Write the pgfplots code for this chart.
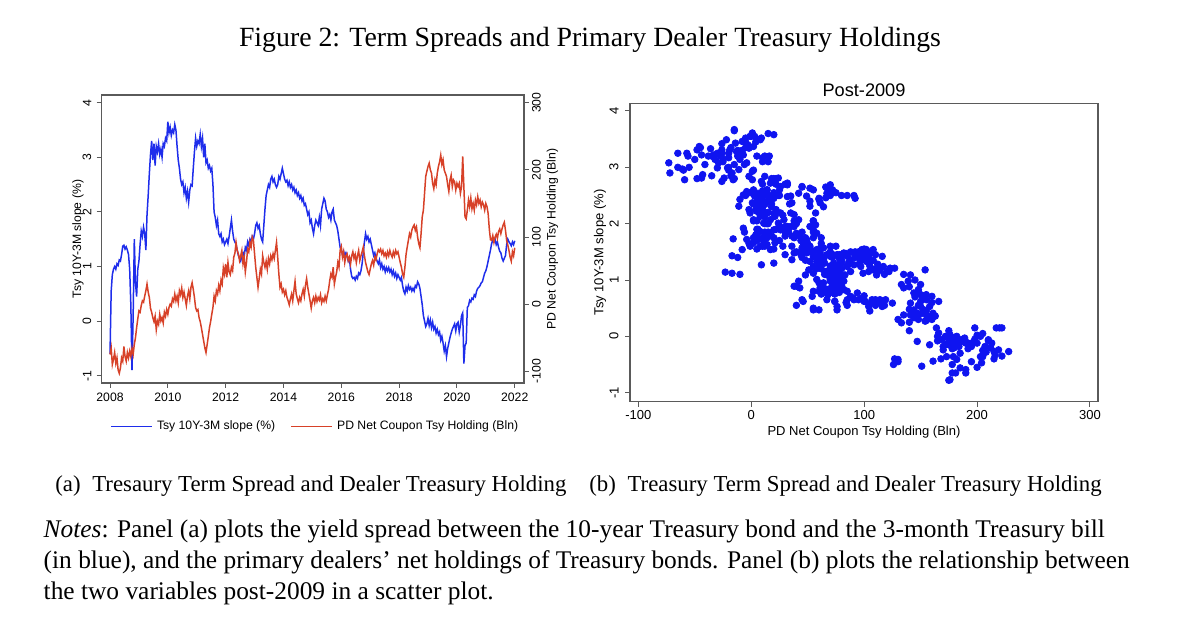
\documentclass[border=0pt]{standalone}
\usepackage{pgfplots}
\pgfplotsset{compat=1.18}
\usepackage{pgfplotstable}
\usepackage{fontspec}
\setmainfont{Liberation Serif}
\newfontfamily\sans{Liberation Sans}
\definecolor{lblue}{RGB}{30,45,235}
\definecolor{lred}{RGB}{215,65,40}
\definecolor{sblue}{RGB}{15,20,240}
\definecolor{framegray}{RGB}{90,90,90}
\newcommand\lf{\sans\fontsize{6.1}{7.3}\selectfont}
\newcommand\rf{\sans\fontsize{6.5}{7.8}\selectfont}
\pgfplotstableread{
t s h
2008.00 -0.60 -75
2008.04 0.55 -65
2008.08 0.85 -90
2008.12 0.95 -82
2008.16 1.00 -72
2008.20 0.95 -88
2008.24 1.05 -80
2008.28 1.02 -98
2008.32 1.12 -103
2008.36 1.10 -95
2008.40 1.22 -80
2008.44 1.37 -85
2008.48 1.39 -63
2008.52 1.32 -78
2008.56 1.36 -85
2008.60 1.30 -72
2008.64 1.22 -80
2008.68 0.95 -70
2008.72 0.30 -78
2008.76 -0.90 -66
2008.80 0.10 -75
2008.84 1.50 -60
2008.88 0.70 -50
2008.92 0.45 -35
2008.96 0.95 -22
2009.00 1.10 -10
2009.04 1.40 -12
2009.08 1.65 -2
2009.12 1.55 5
2009.16 1.72 3
2009.20 1.60 12
2009.24 1.30 20
2009.28 1.95 30
2009.32 2.30 18
2009.36 2.70 10
2009.40 3.05 -6
2009.44 3.30 -12
2009.48 2.95 -20
2009.52 3.25 -26
2009.56 2.85 -18
2009.60 3.20 -38
2009.64 3.10 -25
2009.68 3.25 -30
2009.72 3.05 -15
2009.76 3.15 -25
2009.80 3.00 -20
2009.84 3.25 -28
2009.88 3.20 -12
2009.92 3.35 -18
2009.96 3.30 -8
2010.00 3.65 -15
2010.04 3.45 -5
2010.08 3.55 0
2010.12 3.40 -3
2010.16 3.50 8
2010.20 3.45 4
2010.24 3.60 15
2010.28 3.50 5
2010.32 3.20 12
2010.36 2.95 2
2010.40 2.80 20
2010.44 2.60 14
2010.48 2.50 24
2010.52 2.55 10
2010.56 2.35 18
2010.60 2.45 8
2010.64 2.25 -2
2010.68 2.38 12
2010.72 2.18 20
2010.76 2.40 8
2010.80 2.50 25
2010.84 2.48 32
2010.88 2.80 22
2010.92 3.10 10
2010.96 3.35 -5
2011.00 3.20 -10
2011.04 3.30 -8
2011.08 3.25 -20
2011.12 3.42 -26
2011.16 3.20 -35
2011.20 3.35 -45
2011.24 3.00 -55
2011.28 3.25 -65
2011.32 2.90 -72
2011.36 2.95 -60
2011.40 2.80 -48
2011.44 2.85 -35
2011.48 2.75 -26
2011.52 2.80 -15
2011.56 2.50 -5
2011.60 2.00 12
2011.64 1.90 5
2011.68 1.75 20
2011.72 1.85 15
2011.76 1.60 28
2011.80 1.55 20
2011.84 1.60 36
2011.88 1.45 30
2011.92 1.50 54
2011.96 1.40 45
2012.00 1.45 60
2012.04 1.50 40
2012.08 1.42 62
2012.12 1.55 48
2012.16 1.70 44
2012.20 1.85 55
2012.24 1.65 50
2012.28 1.50 70
2012.32 1.45 76
2012.36 1.40 92
2012.40 1.30 80
2012.44 1.20 75
2012.48 1.15 65
2012.52 1.10 72
2012.56 1.20 80
2012.60 1.25 60
2012.64 1.18 70
2012.68 1.35 48
2012.72 1.30 62
2012.76 1.45 82
2012.80 1.38 78
2012.84 1.50 92
2012.88 1.45 85
2012.92 1.55 100
2012.96 1.50 95
2013.00 1.60 75
2013.04 1.75 55
2013.08 1.80 40
2013.12 1.70 25
2013.16 1.75 38
2013.20 1.60 52
2013.24 1.50 45
2013.28 1.45 72
2013.32 1.75 62
2013.36 2.05 55
2013.40 2.30 64
2013.44 2.40 52
2013.48 2.50 68
2013.52 2.45 60
2013.56 2.60 72
2013.60 2.65 66
2013.64 2.55 75
2013.68 2.60 68
2013.72 2.50 80
2013.76 2.45 92
2013.80 2.50 70
2013.84 2.65 45
2013.88 2.60 25
2013.92 2.70 30
2013.96 2.80 18
2014.00 2.70 22
2014.04 2.60 14
2014.08 2.55 20
2014.12 2.58 10
2014.16 2.48 5
2014.20 2.55 -1
2014.24 2.45 8
2014.28 2.50 15
2014.32 2.40 5
2014.36 2.45 20
2014.40 2.35 34
2014.44 2.40 15
2014.48 2.30 8
2014.52 2.35 2
2014.56 2.25 10
2014.60 2.30 5
2014.64 2.20 15
2014.68 2.25 22
2014.72 2.12 12
2014.76 2.15 28
2014.80 2.05 38
2014.84 1.95 25
2014.88 2.00 15
2014.92 1.80 5
2014.96 1.85 -6
2015.00 1.70 5
2015.04 1.60 10
2015.08 1.75 2
2015.12 1.85 12
2015.16 1.80 4
2015.20 1.75 10
2015.24 1.90 6
2015.28 1.75 14
2015.32 2.05 2
2015.36 2.15 8
2015.40 2.25 4
2015.44 2.20 12
2015.48 2.05 5
2015.52 2.00 14
2015.56 1.90 22
2015.60 1.95 35
2015.64 1.85 45
2015.68 2.00 40
2015.72 2.05 55
2015.76 1.85 30
2015.80 1.80 40
2015.84 1.75 48
2015.88 1.65 62
2015.92 1.50 55
2015.96 1.35 80
2016.00 1.30 86
2016.04 1.22 70
2016.08 1.28 78
2016.12 1.20 62
2016.16 1.25 72
2016.20 1.18 75
2016.24 1.10 65
2016.28 1.15 70
2016.32 0.95 60
2016.36 0.82 72
2016.40 0.78 78
2016.44 0.80 68
2016.48 0.75 74
2016.52 0.82 62
2016.56 0.78 72
2016.60 0.88 80
2016.64 0.85 65
2016.68 0.92 72
2016.72 1.05 78
2016.76 1.25 85
2016.80 1.45 72
2016.84 1.60 62
2016.88 1.50 55
2016.92 1.55 48
2016.96 1.45 44
2017.00 1.50 52
2017.04 1.40 60
2017.08 1.30 65
2017.12 1.20 58
2017.16 1.25 70
2017.20 1.15 66
2017.24 1.10 75
2017.28 1.05 81
2017.32 1.12 78
2017.36 0.98 82
2017.40 1.05 75
2017.44 0.95 80
2017.48 1.00 72
2017.52 0.90 76
2017.56 0.98 70
2017.60 0.92 78
2017.64 0.98 72
2017.68 0.90 80
2017.72 0.95 74
2017.76 0.85 70
2017.80 0.92 78
2017.84 0.82 72
2017.88 0.88 80
2017.92 0.78 75
2017.96 0.85 78
2018.00 0.80 70
2018.04 0.75 62
2018.08 0.80 55
2018.12 0.65 45
2018.16 0.55 40
2018.20 0.50 55
2018.24 0.62 74
2018.28 0.55 85
2018.32 0.65 95
2018.36 0.58 105
2018.40 0.62 100
2018.44 0.55 110
2018.48 0.60 115
2018.52 0.55 118
2018.56 0.65 110
2018.60 0.62 115
2018.64 0.72 100
2018.68 0.68 90
2018.72 0.60 84
2018.76 0.45 105
2018.80 0.30 130
2018.84 0.10 140
2018.88 0.00 165
2018.92 -0.10 190
2018.96 -0.05 198
2019.00 0.05 205
2019.04 -0.08 210
2019.08 0.02 200
2019.12 -0.12 195
2019.16 -0.02 180
2019.20 -0.15 172
2019.24 -0.10 185
2019.28 -0.22 178
2019.32 -0.15 195
2019.36 -0.25 205
2019.40 -0.20 212
2019.44 -0.35 222
2019.48 -0.28 208
2019.52 -0.40 215
2019.56 -0.55 200
2019.60 -0.45 195
2019.64 -0.65 190
2019.68 -0.50 178
2019.72 -0.40 168
2019.76 -0.30 185
2019.80 -0.22 192
2019.84 -0.15 175
2019.88 -0.10 185
2019.92 -0.05 182
2019.96 -0.18 170
2020.00 -0.05 180
2020.04 -0.02 175
2020.08 -0.20 180
2020.12 -0.08 165
2020.16 0.10 175
2020.20 0.15 220
2020.24 -0.78 175
2020.28 -0.45 130
2020.32 -0.40 127
2020.36 0.25 140
2020.40 0.28 155
2020.44 0.38 145
2020.48 0.35 158
2020.52 0.42 142
2020.56 0.40 150
2020.60 0.48 140
2020.64 0.45 155
2020.68 0.55 148
2020.72 0.60 160
2020.76 0.62 150
2020.80 0.65 155
2020.84 0.70 145
2020.88 0.72 152
2020.92 0.80 148
2020.96 0.88 140
2021.00 0.92 150
2021.04 1.00 145
2021.08 1.10 135
2021.12 1.20 112
2021.16 1.30 96
2021.20 1.42 95
2021.24 1.48 102
2021.28 1.45 92
2021.32 1.50 100
2021.36 1.40 104
2021.40 1.45 98
2021.44 1.35 108
2021.48 1.28 112
2021.52 1.25 105
2021.56 1.15 112
2021.60 1.10 118
2021.64 1.15 122
2021.68 1.20 110
2021.72 1.40 95
2021.76 1.50 88
2021.80 1.45 80
2021.84 1.42 70
2021.88 1.38 64
2021.92 1.45 78
2021.96 1.40 72
2022.00 1.47 84
}\data
\pgfplotstableread{
h s
-73 3.08
-65 3.00
-61 2.97
-59 2.78
-57 3.25
-56 3.20
-50 3.14
-48 3.31
-46 3.37
-44 2.81
-43 2.87
-41 3.05
-44 3.22
-36 3.33
-33 3.22
-32 3.14
-30 2.99
-29 3.08
-27 3.20
-26 3.31
-24 2.81
-22 3.49
-21 2.99
-20 3.17
-19 3.31
-17 2.90
-16 2.78
-15 3.67
-14 3.43
-13 3.28
-11 2.96
-10 3.14
-8 3.46
-7 3.22
-5 3.52
-4 3.08
-2 3.34
-1 3.55
1 3.61
2 3.37
3 3.55
5 3.20
8 3.49
9 3.52
10 3.17
15 3.10
16 3.20
20 3.58
1 2.93
1 2.78
-2 2.84
-7 2.51
-4 2.57
2 2.60
3 2.49
1 2.37
6 2.54
8 2.43
11 2.49
12 2.34
14 2.51
17 2.46
20 2.51
-1 2.19
2 2.07
5 2.22
8 2.13
11 2.01
14 2.19
17 2.07
21 2.13
24 2.01
26 2.19
29 2.07
32 1.95
-11 2.31
-10 2.43
21 2.72
24 2.81
26 2.66
32 2.72
17 2.72
12 2.84
9 2.75
-4 1.72
-1 1.60
2 1.66
5 1.72
8 1.60
11 1.69
14 1.63
17 1.54
18 1.78
21 1.66
-8 1.54
-7 1.92
-16 1.73
-17 1.43
-23 1.14
-17 1.12
9 1.27
8 1.86
14 1.83
20 1.89
26 1.89
30 1.78
33 1.86
36 1.78
38 1.95
40 1.83
42 2.07
38 2.16
35 2.19
43 1.78
46 1.66
49 1.72
52 1.95
55 1.89
58 1.83
57 1.98
48 1.60
38 1.48
36 1.36
45 1.57
49 1.48
52 1.57
55 1.42
58 1.54
61 1.48
64 1.57
67 1.45
70 1.60
71 1.42
52 1.33
55 1.24
58 1.33
61 1.27
64 1.36
51 1.18
48 1.09
55 1.12
73 1.30
79 1.36
82 1.48
85 1.42
88 1.36
91 1.48
94 1.45
97 1.36
99 1.42
102 1.54
105 1.48
108 1.54
110 1.45
98 1.54
85 1.24
88 1.15
91 1.27
97 1.24
102 1.33
105 1.33
108 1.18
111 1.09
114 1.18
116 1.42
117 1.24
120 1.15
123 1.21
127 1.21
99 1.12
104 1.15
58 1.01
61 0.86
64 0.95
67 0.83
70 1.01
73 0.89
76 1.01
79 0.92
60 0.80
64 0.77
68 0.74
73 0.77
77 0.80
80 1.07
82 0.83
85 0.80
83 1.09
67 1.09
71 1.15
76 1.15
74 0.62
76 0.47
76 0.53
67 0.65
55 0.47
60 0.47
54 0.71
46 0.62
43 0.86
40 0.89
38 0.89
42 0.98
91 0.65
94 0.77
98 0.68
101 0.62
104 0.53
107 0.65
111 0.59
114 0.65
116 0.53
119 0.65
125 0.59
88 0.71
85 0.65
133 0.92
135 0.86
139 0.98
141 1.09
144 0.77
148 0.83
150 0.74
153 0.68
155 0.74
160 0.71
166 0.62
154 1.18
141 0.59
144 0.47
147 0.41
150 0.53
153 0.47
155 0.38
158 0.53
161 0.41
163 0.36
144 0.33
141 0.38
135 0.38
133 0.24
148 0.30
154 0.27
160 0.30
164 0.15
166 0.06
169 -0.06
172 0.00
175 -0.09
176 0.03
179 -0.12
182 0.00
184 -0.18
186 -0.06
189 -0.03
192 -0.12
195 -0.18
198 0.15
200 -0.12
203 0.00
205 -0.36
207 -0.18
210 -0.06
213 -0.12
215 -0.27
217 0.15
222 0.15
228 -0.27
219 -0.24
216 -0.33
203 -0.36
204 -0.47
190 -0.59
185 -0.56
181 -0.65
178 -0.65
176 -0.77
182 -0.41
179 -0.36
173 -0.36
170 -0.24
161 -0.44
158 -0.15
151 -0.53
147 -0.09
130 -0.41
126 -0.50
190 -0.12
45 2.66
52 2.63
55 2.60
61 2.37
66 2.46
68 2.51
70 2.69
49 2.49
52 2.31
57 2.19
60 2.43
67 2.54
85 2.50
91 2.50
42 2.54
36 2.37
35 2.49
32 2.69
}\extra
\begin{document}
\begin{tikzpicture}
\path[use as bounding box] (0,0) rectangle (600pt,321pt);
% ---------- left panel, left axis ----------
\begin{axis}[
  at={(50.85pt,129.5pt)}, anchor=south west,
  scale only axis, width=211.15pt, height=144pt,
  xmin=2007.712, xmax=2022.32, ymin=-1.134, ymax=4.141,
  xtick={2008,2010,2012,2014,2016,2018,2020,2022},
  xticklabels={2008,2010,2012,2014,2016,2018,2020,2022},
  ytick={-1,0,1,2,3,4}, yticklabels={-1,0,1,2,3,4},
  xtick pos=bottom, ytick pos=left, tick align=outside,
  major tick length=2.5pt,
  tick style={draw=framegray, line width=0.5pt},
  axis line style={draw=framegray, line width=0.6pt},
  ticklabel style={font=\lf, inner sep=0pt},
  xticklabel shift=2.5pt,
  yticklabel shift=2.5pt,
  yticklabel style={rotate=90, anchor=south},
  xticklabel style={anchor=north},
  ylabel={Tsy 10Y-3M slope (\%)},
  ylabel style={at={(axis description cs:-0.0561,0.5)}, anchor=center, font=\lf},
  legend style={at={(axis description cs:0.5083,-0.1517)}, anchor=center,
    draw=none, fill=none, legend columns=2, font=\lf, inner sep=0pt,
    /tikz/every even column/.append style={column sep=5.7pt}},
  legend image code/.code={\draw[#1] (0pt,0pt) -- (20.5pt,0pt);},
]
\addplot[lblue, line width=0.75pt] table[x=t, y=s] {\data};
\addlegendentry{Tsy 10Y-3M slope (\%)}
\addlegendimage{lred, line width=0.75pt}
\addlegendentry{PD Net Coupon Tsy Holding (Bln)}
\end{axis}
% ---------- left panel, right axis ----------
\begin{axis}[
  at={(50.85pt,129.5pt)}, anchor=south west,
  scale only axis, width=211.15pt, height=144pt,
  xmin=2007.712, xmax=2022.32, ymin=-117.4, ymax=311.5,
  axis x line=none, axis y line*=right,
  ytick={-100,0,100,200,300}, yticklabels={-100,0,100,200,300},
  tick align=outside, major tick length=2.5pt,
  tick style={draw=framegray, line width=0.5pt},
  axis line style={draw=framegray, line width=0.6pt},
  ticklabel style={font=\lf, inner sep=0pt},
  yticklabel shift=1.35pt,
  yticklabel style={rotate=90, anchor=north},
  ylabel={PD Net Coupon Tsy Holding (Bln)},
  ylabel style={at={(axis description cs:1.0675,0.5)}, anchor=center, font=\lf},
]
\addplot[lred, line width=0.75pt] table[x=t, y=h] {\data};
\end{axis}
% ---------- right panel ----------
\begin{axis}[
  at={(315pt,120.15pt)}, anchor=south west,
  scale only axis, width=234pt, height=149.2pt,
  xmin=-107.35, xmax=307.1, ymin=-1.16, ymax=4.137,
  xtick={-100,0,100,200,300}, xticklabels={-100,0,100,200,300},
  ytick={-1,0,1,2,3,4}, yticklabels={-1,0,1,2,3,4},
  xtick pos=bottom, ytick pos=left, tick align=outside,
  major tick length=2.5pt,
  tick style={draw=framegray, line width=0.5pt},
  axis line style={draw=framegray, line width=0.6pt},
  ticklabel style={font=\rf, inner sep=0pt},
  xticklabel shift=1.7pt,
  yticklabel shift=3pt,
  yticklabel style={rotate=90, anchor=south},
  xticklabel style={anchor=north},
  every axis title shift=0pt,
  title={Post-2009},
  title style={at={(axis description cs:0.5,1.0221)}, anchor=base,
    inner sep=0pt, font=\sans\fontsize{9.1}{11}\selectfont},
  xlabel={PD Net Coupon Tsy Holding (Bln)},
  xlabel style={at={(axis description cs:0.5,-0.1146)}, anchor=base, inner sep=0pt, font=\rf},
  ylabel={Tsy 10Y-3M slope (\%)},
  ylabel style={at={(axis description cs:-0.0641,0.5)}, anchor=center, font=\rf},
]
\addplot[only marks, mark=*, mark size=1.65pt, color=sblue,
  mark options={draw=sblue, fill=sblue},
  skip coords between index={0}{25}] table[x=h, y=s] {\data};
\addplot[only marks, mark=*, mark size=1.65pt, color=sblue,
  mark options={draw=sblue, fill=sblue}] table[x=h, y=s] {\extra};
\end{axis}
% ---------- texts ----------
\node[anchor=base, inner sep=0pt] at (295pt,297.5pt)
  {\fontsize{13.9}{16.7}\selectfont Figure 2: Term Spreads and Primary Dealer Treasury Holdings};
\node[anchor=base west, inner sep=0pt] at (27.5pt,75.15pt)
  {\fontsize{11.4}{13.7}\selectfont (a)\hspace{5.8pt}Tresaury Term Spread and Dealer Treasury Holding};
\node[anchor=base west, inner sep=0pt] at (294.5pt,75.15pt)
  {\fontsize{11.4}{13.7}\selectfont (b)\hspace{5.8pt}Treasury Term Spread and Dealer Treasury Holding};
\node[anchor=base west, inner sep=0pt] at (21.65pt,52.35pt)
  {\fontsize{12.7}{15.2}\selectfont \textit{Notes}: Panel (a) plots the yield spread between the 10-year Treasury bond and the 3-month Treasury bill};
\node[anchor=base west, inner sep=0pt] at (21.65pt,36.85pt)
  {\fontsize{12.7}{15.2}\selectfont (in blue), and the primary dealers’ net holdings of Treasury bonds. Panel (b) plots the relationship between};
\node[anchor=base west, inner sep=0pt] at (21.65pt,21.35pt)
  {\fontsize{12.7}{15.2}\selectfont the two variables post-2009 in a scatter plot.};
\end{tikzpicture}
\end{document}
